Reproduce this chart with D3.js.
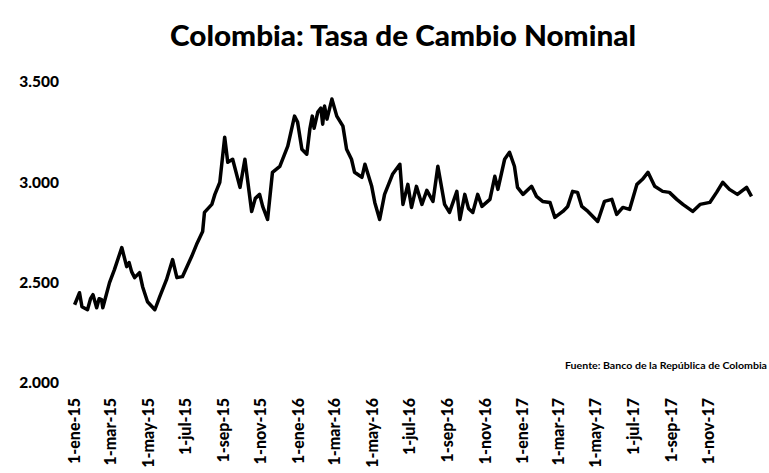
<!DOCTYPE html>
<html>
<head>
<meta charset="utf-8">
<script src="https://cdn.jsdelivr.net/npm/d3@7"></script>
<style>
  body { margin: 0; background: #fff; }
  text { font-family: Lato, "Open Sans", sans-serif; font-weight: bold; fill: #000; }
</style>
</head>
<body>
<div class="chart"></div>
<script>
// fechas y valores (COP por USD)
const fechas = [
  '2015-01-02','2015-01-06','2015-01-10','2015-01-14','2015-01-23','2015-01-28','2015-02-01','2015-02-07',
  '2015-02-11','2015-02-15','2015-02-17','2015-02-28','2015-03-08','2015-03-20','2015-03-28','2015-04-01',
  '2015-04-05','2015-04-10','2015-04-18','2015-04-23','2015-05-01','2015-05-13','2015-05-21','2015-06-01',
  '2015-06-11','2015-06-18','2015-06-27','2015-07-12','2015-07-20','2015-07-30','2015-08-02','2015-08-14',
  '2015-08-19','2015-08-27','2015-09-04','2015-09-09','2015-09-17','2015-09-29','2015-10-07','2015-10-18',
  '2015-10-24','2015-10-31','2015-11-05','2015-11-13','2015-11-21','2015-12-03','2015-12-16','2015-12-27',
  '2016-01-01','2016-01-08','2016-01-16','2016-01-21','2016-01-25','2016-01-28','2016-02-03','2016-02-08',
  '2016-02-11','2016-02-14','2016-02-18','2016-02-26','2016-03-05','2016-03-15','2016-03-21','2016-03-29',
  '2016-04-03','2016-04-15','2016-04-20','2016-05-01','2016-05-06','2016-05-14','2016-05-22','2016-06-04',
  '2016-06-16','2016-06-21','2016-06-29','2016-07-05','2016-07-13','2016-07-22','2016-07-30','2016-08-09',
  '2016-08-17','2016-08-28','2016-09-05','2016-09-17','2016-09-22','2016-09-30','2016-10-06','2016-10-13',
  '2016-10-21','2016-10-28','2016-11-10','2016-11-18','2016-11-23','2016-12-04','2016-12-12','2016-12-20',
  '2016-12-25','2017-01-03','2017-01-17','2017-01-25','2017-02-04','2017-02-16','2017-02-24','2017-03-09',
  '2017-03-17','2017-03-25','2017-04-02','2017-04-09','2017-04-19','2017-05-05','2017-05-16','2017-05-28',
  '2017-06-05','2017-06-15','2017-06-26','2017-07-08','2017-07-17','2017-07-26','2017-08-06','2017-08-19',
  '2017-08-30','2017-09-11','2017-09-21','2017-10-07','2017-10-19','2017-11-04','2017-11-15','2017-11-25',
  '2017-12-06','2017-12-19','2018-01-03','2018-01-11'
];
const tasa = [
  2390, 2420, 2450, 2380, 2365, 2420, 2440, 2375,
  2420, 2415, 2375, 2500, 2565, 2675, 2580, 2600,
  2555, 2525, 2550, 2480, 2405, 2365, 2430, 2515,
  2615, 2525, 2530, 2630, 2690, 2755, 2850, 2890,
  2940, 3000, 3225, 3100, 3115, 2975, 3115, 2855,
  2920, 2940, 2880, 2815, 3050, 3080, 3180, 3330,
  3300, 3165, 3140, 3265, 3330, 3270, 3350, 3370,
  3290, 3380, 3315, 3415, 3330, 3280, 3165, 3115,
  3050, 3025, 3090, 2980, 2900, 2815, 2940, 3040,
  3090, 2890, 2990, 2875, 2980, 2890, 2960, 2905,
  3080, 2890, 2850, 2955, 2815, 2940, 2870, 2850,
  2940, 2880, 2915, 3030, 2965, 3115, 3150, 3080,
  2975, 2940, 2980, 2930, 2905, 2900, 2825, 2855,
  2880, 2955, 2950, 2880, 2855, 2805, 2905, 2915,
  2840, 2875, 2865, 2990, 3015, 3050, 2980, 2955,
  2950, 2915, 2890, 2855, 2890, 2900, 2950, 3000,
  2965, 2940, 2975, 2930
];
const ticksY = [2000, 2500, 3000, 3500];
const etiquetasX = ['1-ene-15','1-mar-15','1-may-15','1-jul-15','1-sep-15','1-nov-15','1-ene-16','1-mar-16',
  '1-may-16','1-jul-16','1-sep-16','1-nov-16','1-ene-17','1-mar-17','1-may-17','1-jul-17','1-sep-17','1-nov-17'];

const w = 769;
const h = 473;

const parse = d3.timeParse('%Y-%m-%d');
const data = fechas.map((f, i) => ({ fecha: parse(f), valor: tasa[i] }));

const meses = { ene: 0, mar: 2, may: 4, jul: 6, sep: 8, nov: 10 };
const tickFechas = etiquetasX.map(s => {
  const p = s.split('-');
  return new Date(2000 + +p[2], meses[p[1]], 1);
});

const xScale = d3.scaleTime()
                 .domain([new Date(2015, 0, 1), new Date(2017, 10, 1)])
                 .range([74, 708]);

const yScale = d3.scaleLinear()
                 .domain([2000, 3500])
                 .range([383, 82]);

const svg = d3.select('.chart')
              .append('svg')
              .attr('width', w)
              .attr('height', h);

svg.append('text')
   .attr('x', 403)
   .attr('y', 46)
   .style('text-anchor', 'middle')
   .style('font-size', '29px')
   .style('font-weight', '900')
   .attr('textLength', 466)
   .attr('lengthAdjust', 'spacingAndGlyphs')
   .text('Colombia: Tasa de Cambio Nominal');

const yAxis = d3.axisLeft(yScale)
                .tickValues(ticksY)
                .tickSize(0)
                .tickPadding(0)
                .tickFormat(d => d3.format(',')(d).replace(',', '.'));

svg.append('g')
   .attr('transform', 'translate(59, 0)')
   .call(yAxis)
   .call(g => g.select('.domain').remove())
   .selectAll('text')
   .style('font-family', 'Lato, sans-serif')
   .style('font-weight', '900')
   .style('font-size', '15.5px');

const xAxis = d3.axisBottom(xScale)
                .tickValues(tickFechas)
                .tickSize(0)
                .tickFormat((d, i) => etiquetasX[i]);

svg.append('g')
   .attr('transform', 'translate(0, 383)')
   .call(xAxis)
   .call(g => g.select('.domain').remove())
   .selectAll('text')
   .style('font-family', 'Lato, sans-serif')
   .style('font-weight', '900')
   .style('font-size', '16px')
   .style('text-anchor', 'end')
   .attr('dy', '0.35em')
   .attr('y', 0)
   .attr('transform', 'translate(0, 15) rotate(-90)');

const line = d3.line()
               .x(d => xScale(d.fecha))
               .y(d => yScale(d.valor));

svg.append('path')
   .datum(data)
   .attr('fill', 'none')
   .attr('stroke', '#000')
   .attr('stroke-width', 3.5)
   .attr('stroke-linejoin', 'round')
   .attr('d', line);

svg.append('text')
   .attr('x', 767)
   .attr('y', 369)
   .style('text-anchor', 'end')
   .style('font-size', '10px')
   .attr('textLength', 202)
   .attr('lengthAdjust', 'spacingAndGlyphs')
   .text('Fuente: Banco de la República de Colombia');
</script>
</body>
</html>
